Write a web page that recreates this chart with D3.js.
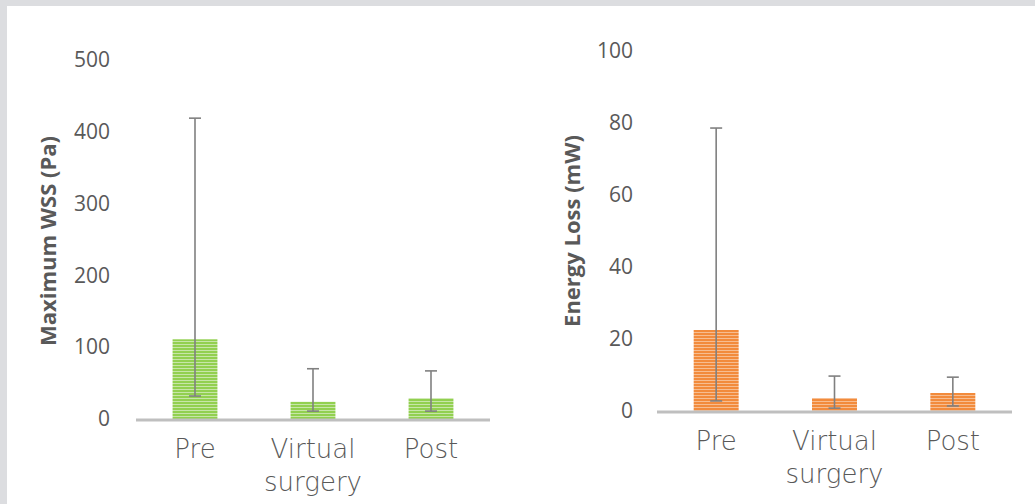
<!DOCTYPE html>
<html>
<head>
  <meta charset="utf-8">
  <title>WSS and energy loss</title>
  <script src="https://d3js.org/d3.v7.min.js"></script>
  <style>
    body { margin: 0; background: #dcdde0; }
    .tick text { fill: #595959; }
  </style>
</head>
<body>
<div id="chart"></div>
<script>
// categories and values
var categories = ["Pre", "Virtual surgery", "Post"];

var wssMean = [111, 24, 29];
var wssLow = [32, 11, 11];
var wssHigh = [419, 70, 67];
var wssTicks = [0, 100, 200, 300, 400, 500];

var elMean = [22.5, 3.6, 5.0];
var elLow = [2.8, 0.8, 1.4];
var elHigh = [78.6, 9.7, 9.4];
var elTicks = [0, 20, 40, 60, 80, 100];

var W = 1035, H = 504;

var svg = d3.select("#chart").append("svg")
  .attr("width", W).attr("height", H);

// white panel inside the grey frame
svg.append("rect").attr("x", 7).attr("y", 6)
  .attr("width", W - 7).attr("height", H - 6).attr("fill", "#fff");

var defs = svg.append("defs");
function stripes(id, base, light) {
  var p = defs.append("pattern").attr("id", id)
    .attr("patternUnits", "userSpaceOnUse").attr("width", 6).attr("height", 3);
  p.append("rect").attr("width", 6).attr("height", 3).attr("fill", base);
  p.append("rect").attr("y", 2).attr("width", 6).attr("height", 1).attr("fill", light);
}
stripes("green", "#92d050", "#c7e6a8");
stripes("orange", "#f28b3c", "#f7bd90");

function panel(opt) {
  var x = d3.scaleBand().domain(categories)
    .range([opt.x0, opt.x1]).paddingInner(0.62).paddingOuter(0.31);
  var y = d3.scaleLinear().domain([0, opt.max]).range([opt.y0, opt.y1]);

  var g = svg.append("g");

  // y axis, labels only
  var ya = g.append("g")
    .attr("transform", "translate(" + opt.x0 + ",0)")
    .call(d3.axisLeft(y).tickValues(opt.ticks).tickSize(0).tickPadding(opt.pad));
  ya.select(".domain").remove();
  ya.selectAll("text")
    .style("font-family", "'Open Sans', sans-serif")
    .style("font-size", "21px");

  // bars
  g.selectAll(".bar").data(categories).enter().append("rect")
    .attr("x", function(d) { return x(d); })
    .attr("y", function(d, i) { return y(opt.mean[i]); })
    .attr("width", x.bandwidth())
    .attr("height", function(d, i) { return y(0) - y(opt.mean[i]); })
    .attr("fill", "url(#" + opt.fill + ")");

  // baseline
  g.append("line")
    .attr("x1", opt.x0).attr("x2", opt.x1)
    .attr("y1", y(0) + 1).attr("y2", y(0) + 1)
    .attr("stroke", "#bfbfbf").attr("stroke-width", 3);

  // error bars
  var eb = g.selectAll(".err").data(categories).enter().append("g")
    .attr("stroke", "#808080").attr("stroke-width", 1.6);
  eb.append("line")
    .attr("x1", function(d) { return x(d) + x.bandwidth() / 2; })
    .attr("x2", function(d) { return x(d) + x.bandwidth() / 2; })
    .attr("y1", function(d, i) { return y(opt.low[i]); })
    .attr("y2", function(d, i) { return y(opt.high[i]); });
  [opt.low, opt.high].forEach(function(arr) {
    eb.append("line")
      .attr("x1", function(d) { return x(d) + x.bandwidth() / 2 - 6; })
      .attr("x2", function(d) { return x(d) + x.bandwidth() / 2 + 6; })
      .attr("y1", function(d, i) { return y(arr[i]); })
      .attr("y2", function(d, i) { return y(arr[i]); });
  });

  // category labels
  var lab = g.selectAll(".lab").data(categories).enter().append("text")
    .attr("x", function(d) { return x(d) + x.bandwidth() / 2; })
    .attr("y", y(0) + 39)
    .attr("text-anchor", "middle")
    .attr("fill", "#595959")
    .style("font-family", "'DejaVu Sans', sans-serif")
    .style("font-weight", 200)
    .style("font-size", "26px");
  lab.each(function(d) {
    var words = d.split(" ");
    var t = d3.select(this);
    words.forEach(function(w, k) {
      t.append("tspan").attr("x", t.attr("x")).attr("dy", k ? 33 : 0).text(w);
    });
  });

  // y title
  g.append("text")
    .attr("transform", "translate(" + opt.tx + "," + opt.ty + ") rotate(-90)")
    .attr("text-anchor", "middle")
    .attr("fill", "#595959")
    .style("font-family", "'Open Sans', sans-serif")
    .style("font-weight", "bold")
    .style("font-size", "22px")
    .text(opt.title);
}

panel({ x0: 136, x1: 490, y0: 419, y1: 60, max: 500, ticks: wssTicks, pad: 26,
  mean: wssMean, low: wssLow, high: wssHigh, fill: "green",
  title: "Maximum WSS (Pa)", tx: 56, ty: 241 });

panel({ x0: 657, x1: 1012, y0: 411, y1: 51, max: 100, ticks: elTicks, pad: 24,
  mean: elMean, low: elLow, high: elHigh, fill: "orange",
  title: "Energy Loss (mW)", tx: 580, ty: 231 });
</script>
</body>
</html>
